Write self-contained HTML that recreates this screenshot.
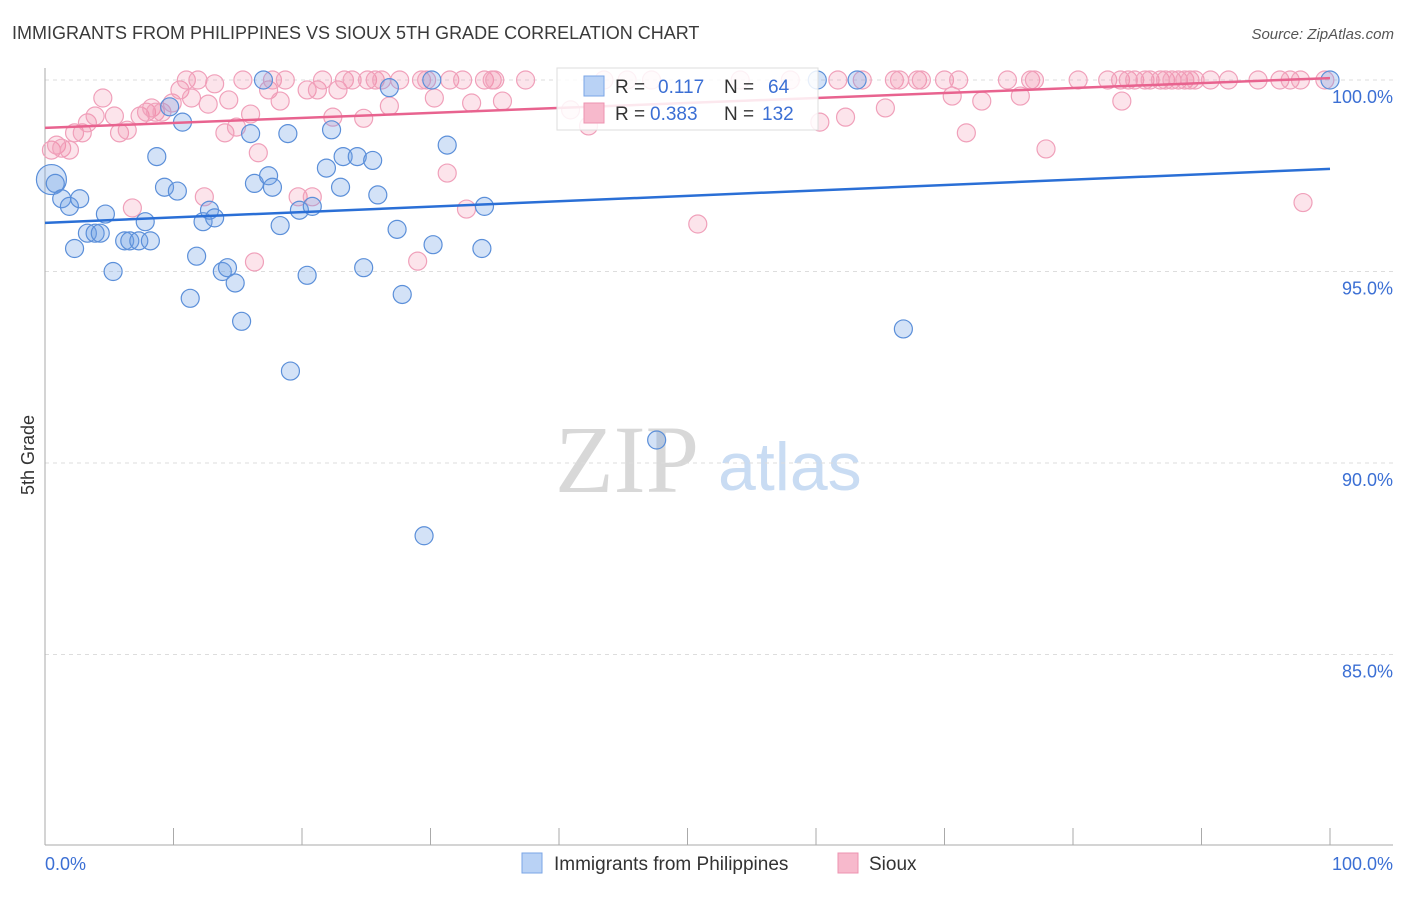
<!DOCTYPE html>
<html><head><meta charset="utf-8"><style>
body{margin:0;background:#fff;font-family:"Liberation Sans",sans-serif}
svg text{font-family:"Liberation Sans",sans-serif}
</style></head><body>
<svg id="chart" width="1406" height="892" xmlns="http://www.w3.org/2000/svg">
<text x="12" y="39" font-size="18" fill="#3a3a3a">IMMIGRANTS FROM PHILIPPINES VS SIOUX 5TH GRADE CORRELATION CHART</text>
<text x="1394" y="39" font-size="15" fill="#555" font-style="italic" text-anchor="end">Source: ZipAtlas.com</text>
<g>
<text x="555" y="492" font-size="96" fill="#d8d8d8" font-family="Liberation Serif" style="font-family:'Liberation Serif',serif">ZIP</text>
<text x="718" y="490" font-size="68" fill="#c9dcf3">atlas</text>
</g>
<g id="grid"></g><g id="axes"></g><g id="pink"></g><g id="blue"></g><g id="trends"></g>
<g>
<rect x="557" y="68" width="261" height="62" fill="#fff" fill-opacity="0.85" stroke="#ddd"/>
<rect x="584" y="76" width="20" height="20" fill="#b9d2f5" stroke="#7aa5e6"/>
<text x="615" y="93" font-size="19" fill="#333">R = </text><text x="658" y="93" font-size="19" fill="#3b6fd4">0.117</text>
<text x="724" y="93" font-size="19" fill="#333">N = </text><text x="768" y="93" font-size="19" fill="#3b6fd4">64</text>
<rect x="584" y="103" width="20" height="20" fill="#f7b9cc" stroke="#ee93b0"/>
<text x="615" y="120" font-size="19" fill="#333">R = </text><text x="650" y="120" font-size="19" fill="#3b6fd4">0.383</text>
<text x="724" y="120" font-size="19" fill="#333">N = </text><text x="762" y="120" font-size="19" fill="#3b6fd4">132</text>
</g>
<g>
<rect x="522" y="853" width="20" height="20" fill="#b9d2f5" stroke="#7aa5e6"/>
<text x="554" y="870" font-size="19" fill="#333">Immigrants from Philippines</text>
<rect x="838" y="853" width="20" height="20" fill="#f7b9cc" stroke="#ee93b0"/>
<text x="869" y="870" font-size="19" fill="#333">Sioux</text>
</g>
<text transform="translate(34,455) rotate(-90)" font-size="18" fill="#333" text-anchor="middle">5th Grade</text>
</svg>
<script>
const yTicks=[100,95,90,85];
const yTickLabels=["100.0%","95.0%","90.0%","85.0%"];
const xTickVals=[0,10,20,30,40,50,60,70,80,90,100];
const blueX=[0.5,0.8,1.3,1.9,2.7,2.3,3.3,3.9,4.3,4.7,5.3,6.2,6.6,7.3,7.8,8.2,8.7,9.3,9.7,10.3,10.7,11.3,11.8,12.3,12.8,13.2,13.8,14.2,14.8,15.3,16.0,16.3,17.0,17.4,17.7,18.3,18.9,19.1,19.8,20.4,20.8,21.9,22.3,23.0,23.2,24.3,24.8,25.5,25.9,26.8,27.4,27.8,29.5,30.1,30.2,31.3,34.0,34.2,47.6,60.1,63.2,66.8,100];
const blueY=[97.4,97.3,96.9,96.7,96.9,95.6,96.0,96.0,96.0,96.5,95.0,95.8,95.8,95.8,96.3,95.8,98.0,97.2,99.3,97.1,98.9,94.3,95.4,96.3,96.6,96.4,95.0,95.1,94.7,93.7,98.6,97.3,100,97.5,97.2,96.2,98.6,92.4,96.6,94.9,96.7,97.7,98.7,97.2,98.0,98.0,95.1,97.9,97.0,99.8,96.1,94.4,88.1,100,95.7,98.3,95.6,96.7,90.6,100,100,93.5,100];
const pinkX=[0.5,0.9,1.3,1.9,2.3,2.9,3.3,3.9,4.5,5.4,5.8,6.4,6.8,7.4,7.9,8.3,8.6,9.1,9.9,10.5,11.0,11.4,11.9,12.4,12.7,13.2,14.0,14.3,14.9,15.4,16.0,16.6,16.3,17.4,17.7,18.3,18.7,19.7,20.4,20.8,21.2,21.6,22.4,22.8,23.3,23.9,24.8,25.1,25.7,26.2,26.8,27.6,29.0,29.3,29.7,30.3,31.3,31.5,32.5,32.8,33.2,34.2,34.8,35.0,35.6,37.4,40.9,42.3,43.5,45.3,47.2,50.8,54.1,58.0,60.3,61.7,62.3,63.6,65.4,66.1,66.5,67.9,68.2,70.0,70.6,71.1,71.7,72.9,74.9,75.9,76.7,77.0,77.9,80.4,82.7,83.7,83.8,84.3,84.8,85.6,86.0,86.8,87.2,87.7,88.2,88.7,89.1,89.5,90.7,92.1,94.4,96.1,96.9,97.7,97.9,99.6];
const pinkY=[98.17,98.3,98.22,98.17,98.62,98.62,98.88,99.06,99.53,99.06,98.62,98.69,96.66,99.06,99.16,99.27,99.16,99.16,99.4,99.74,100,99.53,100,96.95,99.37,99.9,98.62,99.48,98.77,100,99.11,98.1,95.25,99.74,100,99.45,100,96.95,99.74,96.95,99.74,100,99.03,99.74,100,100,99.0,100,100,100,99.32,100,95.27,100,100,99.53,97.57,100,100,96.63,99.4,100,100,100,99.45,100,99.22,98.8,100,100,100,96.24,100,100,98.9,100,99.03,100,99.27,100,100,100,100,100,99.58,100,98.62,99.45,100,99.58,100,100,98.2,100,100,100,99.45,100,100,100,100,100,100,100,100,100,100,100,100,100,100,100,100,100,96.8,100];
const blueTrend=[96.27,97.68];
const pinkTrend=[98.75,100.05];
const X=v=>45+v*12.85, Y=v=>80+(100-v)*38.3;
const NS="http://www.w3.org/2000/svg";
function mk(p,t,a){const e=document.createElementNS(NS,t);for(const k in a)e.setAttribute(k,a[k]);document.getElementById(p).appendChild(e);return e;}
yTicks.forEach((v,i)=>{
 const l=mk('grid','line',{x1:45,x2:1393,y1:Y(v),y2:Y(v),stroke:'#ddd','stroke-dasharray':'4,4'});
 
 
 const t=mk('grid','text',{x:1393,y:Y(v)+23,'font-size':18,fill:'#3b6fd4','text-anchor':'end'});
 t.textContent=yTickLabels[i];
 
 
});
let a=mk('axes','line',{x1:45,x2:45,y1:68,y2:845,stroke:'#aaa'});


a=mk('axes','line',{x1:45,x2:1393,y1:845,y2:845,stroke:'#aaa'});


xTickVals.forEach(v=>{const t=mk('axes','line',{x1:X(v),x2:X(v),y1:828,y2:845,stroke:'#aaa'});
 
 });
let lt=mk('axes','text',{x:45,y:870,'font-size':18,fill:'#3b6fd4'});lt.textContent='0.0%';


lt=mk('axes','text',{x:1393,y:870,'font-size':18,fill:'#3b6fd4','text-anchor':'end'});lt.textContent='100.0%';


pinkX.forEach((x,i)=>{const c=mk('pink','circle',{cx:X(x),cy:Y(pinkY[i]),r:9,fill:'rgba(240,130,165,0.22)',stroke:'#f0a0ba','stroke-width':1.2});
 
 });
blueX.forEach((x,i)=>{const c=mk('blue','circle',{cx:X(x),cy:Y(blueY[i]),r:i==0?15:9,fill:'rgba(110,160,230,0.3)',stroke:'#5b8fd9','stroke-width':1.2});
 
 });
let tl=mk('trends','line',{x1:X(0),x2:X(100),y1:Y(blueTrend[0]),y2:Y(blueTrend[1]),stroke:'#2a6fd6','stroke-width':2.5});


tl=mk('trends','line',{x1:X(0),x2:X(100),y1:Y(pinkTrend[0]),y2:Y(pinkTrend[1]),stroke:'#e8638f','stroke-width':2.5});


</script>
</body></html>
